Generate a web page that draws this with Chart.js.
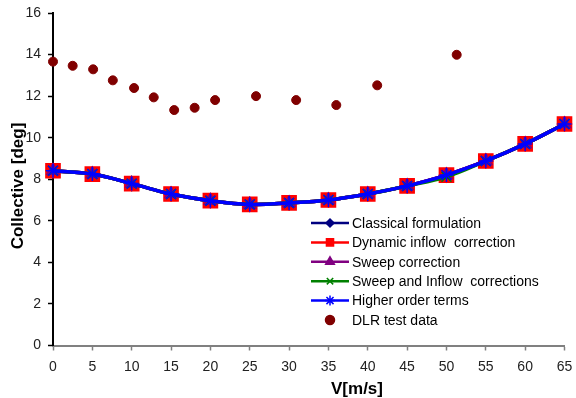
<!DOCTYPE html>
<html>
<head>
<meta charset="utf-8">
<script src="https://cdn.jsdelivr.net/npm/chart.js@4/dist/chart.umd.min.js"></script>
<style>
  html, body { margin: 0; padding: 0; background: #fff; }
  #wrap { width: 576px; height: 398px; }
</style>
</head>
<body>
<div id="wrap"><canvas id="collectiveChart"></canvas></div>
<script>
// wind speeds for the computed curves
var speeds = [0, 5, 10, 15, 20, 25, 30, 35, 40, 45, 50, 55, 60, 65];

// collective pitch [deg] from each model
var classical   = [8.41, 8.25, 7.79, 7.29, 6.97, 6.79, 6.86, 7.00, 7.29, 7.68, 8.20, 8.88, 9.70, 10.66];
var dynInflow   = [8.41, 8.25, 7.79, 7.29, 6.97, 6.79, 6.86, 7.00, 7.29, 7.68, 8.20, 8.88, 9.70, 10.66];
var sweep       = [8.41, 8.25, 7.79, 7.29, 6.97, 6.79, 6.86, 7.00, 7.29, 7.68, 8.20, 8.88, 9.70, 10.66];
var sweepInflow = [8.41, 8.25, 7.79, 7.29, 6.97, 6.79, 6.86, 7.00, 7.29, 7.68, 8.12, 8.88, 9.70, 10.66];
var higherOrder = [8.41, 8.25, 7.79, 7.29, 6.97, 6.79, 6.86, 7.00, 7.29, 7.68, 8.20, 8.88, 9.70, 10.66];

// wind tunnel measurements
var dlrSpeed      = [0, 2.5, 5.1, 7.6, 10.3, 12.8, 15.4, 18.0, 20.6, 25.8, 30.9, 36.0, 41.2, 51.3];
var dlrCollective = [13.66, 13.46, 13.29, 12.76, 12.39, 11.94, 11.33, 11.44, 11.81, 12.0, 11.81, 11.57, 12.52, 13.99];

var xTicks = [0, 65, 5];   // min, max, step
var yTicks = [0, 16, 2];
var xTitle = 'V[m/s]';
var yTitle = 'Collective [deg]';

function pts(xs, ys) {
    return xs.map(function (x, i) { return { x: x, y: ys[i] }; });
}

function curve(label, values, color, marker, radius, order) {
    return {
        label: label,
        data: pts(speeds, values),
        borderColor: color,
        backgroundColor: color,
        borderWidth: 3.5,
        tension: 0.4,
        pointStyle: marker,
        pointRadius: radius,
        pointBorderWidth: 1.5,
        pointBorderColor: color,
        clip: false,
        order: order
    };
}

var datasets = [
    curve('Classical formulation', classical, '#000080', 'rectRot', 7, 4),
    curve('Dynamic inflow  correction', dynInflow, '#FF0000', 'rect', 10, 3),
    curve('Sweep correction', sweep, '#800080', 'triangle', 7, 2),
    curve('Sweep and Inflow  corrections', sweepInflow, '#008000', 'crossRot', 7, 1),
    curve('Higher order terms', higherOrder, '#0000FF', 'star', 7, 0),
    {
        label: 'DLR test data',
        data: pts(dlrSpeed, dlrCollective),
        showLine: false,
        pointStyle: 'circle',
        pointRadius: 4.5,
        backgroundColor: '#800000',
        borderColor: '#800000',
        clip: false,
        order: 5
    }
];

// point sizes used in the legend box
var legendRadius = [4, 5, 5, 4.5, 5, 4.5];

var fontFamily = '"Liberation Sans", Arial, sans-serif';

// legend inside the plot (line + marker per entry) and the two axis titles
var insideLegend = {
    id: 'insideLegend',
    afterDraw: function (chart) {
        var ctx = chart.ctx;
        var x0 = 311, x1 = 349, y = 223, rowH = 19.4;
        ctx.save();
        ctx.font = '14px ' + fontFamily;
        ctx.textBaseline = 'middle';
        chart.data.datasets.forEach(function (ds, i) {
            var yy = y + i * rowH;
            if (ds.showLine !== false) {
                ctx.strokeStyle = ds.borderColor;
                ctx.lineWidth = 2.5;
                ctx.beginPath();
                ctx.moveTo(x0, yy);
                ctx.lineTo(x1, yy);
                ctx.stroke();
            }
            ctx.fillStyle = ds.backgroundColor;
            ctx.strokeStyle = ds.borderColor;
            ctx.lineWidth = 1.5;
            Chart.helpers.drawPoint(ctx, { pointStyle: ds.pointStyle, radius: legendRadius[i], borderWidth: 1.5 }, (x0 + x1) / 2, yy);
            ctx.fillStyle = '#000';
            ctx.fillText(ds.label, 352, yy + 1);
        });

        // axis titles
        ctx.fillStyle = '#000';
        ctx.textAlign = 'center';
        ctx.font = 'bold 17px ' + fontFamily;
        ctx.fillText(xTitle, 357, 389);
        ctx.translate(18.5, 186);
        ctx.rotate(-Math.PI / 2);
        ctx.font = 'bold 17px ' + fontFamily;
        ctx.fillText(yTitle, 0, 0);
        ctx.restore();
    }
};

var tickFont = { family: fontFamily, size: 14 };

new Chart(document.getElementById('collectiveChart'), {
    type: 'line',
    data: { datasets: datasets },
    plugins: [insideLegend],
    options: {
        responsive: true,
        maintainAspectRatio: false,
        animation: false,
        layout: { padding: { top: 13, right: 8, left: 0, bottom: 0 } },
        plugins: {
            legend: { display: false },
            tooltip: { enabled: false }
        },
        scales: {
            x: {
                type: 'linear',
                min: xTicks[0],
                max: xTicks[1],
                ticks: { stepSize: xTicks[2], color: '#222', font: tickFont, padding: 8, maxRotation: 0 },
                grid: { drawOnChartArea: false, drawTicks: true, tickLength: 5, tickColor: '#808080', tickWidth: 1.5 },
                border: { color: '#808080', width: 2 },
                afterFit: function (s) {
                    s.height = 52.5;
                    s.paddingLeft = 0;
                    s.paddingRight = 0;
                }
            },
            y: {
                min: yTicks[0],
                max: yTicks[1],
                ticks: { stepSize: yTicks[2], color: '#222', font: tickFont, padding: 7 },
                grid: { drawOnChartArea: false, drawTicks: true, tickLength: 5, tickColor: '#000', tickWidth: 1.5 },
                border: { color: '#000', width: 2 },
                afterFit: function (s) {
                    s.width = 53;
                    s.paddingTop = 0;
                    s.paddingBottom = 0;
                }
            }
        }
    }
});
</script>
</body>
</html>
